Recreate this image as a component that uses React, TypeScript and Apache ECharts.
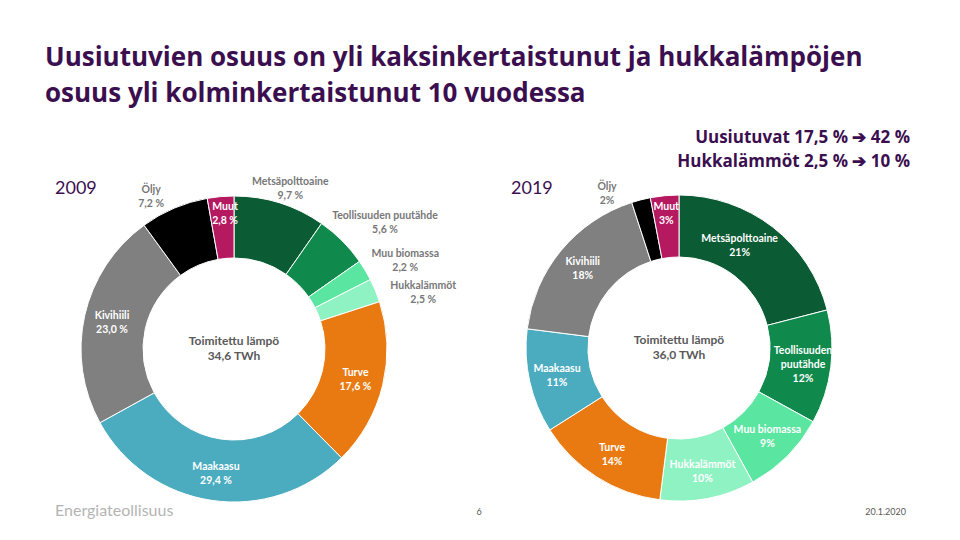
import React, { useEffect, useRef } from "react";
import * as echarts from "echarts";

const categories = [
  "Metsäpolttoaine",
  "Teollisuuden puutähde",
  "Muu biomassa",
  "Hukkalämmöt",
  "Turve",
  "Maakaasu",
  "Kivihiili",
  "Öljy",
  "Muut",
];
const names2019 = [
  "Metsäpolttoaine",
  "Teollisuuden\npuutähde",
  "Muu biomassa",
  "Hukkalämmöt",
  "Turve",
  "Maakaasu",
  "Kivihiili",
  "Öljy",
  "Muut",
];
const share2009 = [9.7, 5.6, 2.2, 2.5, 17.6, 29.4, 23.0, 7.2, 2.8];
const share2019 = [21, 12, 9, 10, 14, 11, 18, 2, 3];
const deliveredTWh = [34.6, 36.0];
const years = ["2009", "2019"];
const titleLines = [
  "Uusiutuvien osuus on yli kaksinkertaistunut ja hukkalämpöjen",
  "osuus yli kolminkertaistunut 10 vuodessa",
];
const summaryLines = ["Uusiutuvat 17,5 % ➔ 42 %", "Hukkalämmöt 2,5 % ➔ 10 %"];

const colors = [
  "#0b5b34",
  "#0f8a4c",
  "#5ae6a0",
  "#8ff2c2",
  "#e97a12",
  "#4bacc0",
  "#808080",
  "#000000",
  "#b5195f",
];

const PURPLE = "#3b0f4f";
const FONT = "Lato, 'Open Sans', sans-serif";
const HEAD_FONT = "'Open Sans', Lato, sans-serif";

const fmt1 = (v: number) => v.toFixed(1).replace(".", ",");

export default function App() {
  const ref = useRef<HTMLDivElement>(null);
  useEffect(() => {
    if (!ref.current) return;
    const chart = echarts.init(ref.current, undefined, { renderer: "svg" });

    const outside2009: Record<number, number[]> = {
      0: [2, 12],
      1: [23, 1],
      2: [16, 4],
      3: [22, 12],
      7: [-12, 14],
    };
    const inside2009Off: Record<number, number[]> = { 8: [2, -11] };
    const outside2019: Record<number, number[]> = { 7: [-27, 20] };
    const inside2019Off: Record<number, number[]> = { 0: [-16, -4], 8: [-1, -11] };

    const labelBase = {
      fontFamily: FONT,
      fontWeight: "bold" as const,
      fontSize: 10.5,
      lineHeight: 14,
    };

    const mainData = (vals: number[], names: string[], outside: Record<number, number[]>, offs: Record<number, number[]>, f: (v: number) => string) =>
      vals.map((v, i) => ({
        value: v,
        name: categories[i],
        itemStyle: { color: colors[i] },
        label: {
          show: !(i in outside),
          formatter: `${names[i]}\n${f(v)}`,
          offset: offs[i] || [0, 0],
        },
      }));

    const overlayData = (vals: number[], names: string[], outside: Record<number, number[]>, f: (v: number) => string) =>
      vals.map((v, i) => ({
        value: v,
        name: categories[i],
        itemStyle: { color: "rgba(0,0,0,0)" },
        label: {
          show: i in outside,
          formatter: `${names[i]}\n${f(v)}`,
          offset: outside[i] || [0, 0],
        },
      }));

    const centers = [
      [234, 349],
      [679, 348],
    ];

    const mainSeries = (idx: number, data: any[]) => ({
      type: "pie",
      center: centers[idx],
      radius: [91, 153],
      startAngle: 90,
      clockwise: true,
      avoidLabelOverlap: false,
      silent: true,
      itemStyle: { borderColor: "#ffffff", borderWidth: 1 },
      label: { ...labelBase, position: "inside", color: "#ffffff" },
      labelLine: { show: false },
      labelLayout: { hideOverlap: false },
      emphasis: { disabled: true },
      data,
    });

    const overlaySeries = (idx: number, data: any[]) => ({
      type: "pie",
      center: centers[idx],
      radius: [160, 196],
      startAngle: 90,
      clockwise: true,
      avoidLabelOverlap: false,
      silent: true,
      itemStyle: { borderWidth: 0 },
      label: { ...labelBase, position: "inside", color: "#777777" },
      labelLine: { show: false },
      labelLayout: { hideOverlap: false },
      emphasis: { disabled: true },
      data,
    });

    const f2019 = (v: number) => `${v}%`;
    const f2009 = (v: number) => `${fmt1(v)} %`;

    const centerTexts = centers.map((c, i) => ({
      type: "text",
      x: c[0],
      y: c[1] - 1,
      style: {
        text: `Toimitettu lämpö\n${fmt1(deliveredTWh[i])} TWh`,
        fontFamily: FONT,
        fontWeight: "bold",
        fontSize: 12,
        lineHeight: 15,
        fill: "#595959",
        align: "center",
        verticalAlign: "middle",
      },
    }));

    chart.setOption({
      animation: false,
      backgroundColor: "#ffffff",
      series: [
        mainSeries(0, mainData(share2009, categories, outside2009, inside2009Off, f2009)),
        overlaySeries(0, overlayData(share2009, categories, outside2009, f2009)),
        mainSeries(1, mainData(share2019, names2019, outside2019, inside2019Off, f2019)),
        overlaySeries(1, overlayData(share2019, names2019, outside2019, f2019)),
      ],
      graphic: [
        {
          type: "text",
          left: 45,
          top: 38,
          style: {
            text: titleLines.join("\n"),
            fontFamily: HEAD_FONT,
            fontWeight: "bold",
            fontSize: 26,
            lineHeight: 36,
            fill: PURPLE,
          },
        },
        {
          type: "text",
          x: 910,
          y: 124,
          style: {
            text: summaryLines.join("\n"),
            fontFamily: HEAD_FONT,
            fontWeight: "bold",
            fontSize: 17,
            lineHeight: 24,
            fill: PURPLE,
            align: "right",
          },
        },
        {
          type: "text",
          x: 55,
          y: 178,
          style: { text: years[0], fontFamily: FONT, fontSize: 18, fill: PURPLE },
        },
        {
          type: "text",
          x: 511,
          y: 178,
          style: { text: years[1], fontFamily: FONT, fontSize: 18, fill: PURPLE },
        },
        ...centerTexts,
        {
          type: "text",
          x: 55,
          y: 501,
          style: { text: "Energiateollisuus", fontFamily: FONT, fontSize: 16, fill: "#b4b4b4" },
        },
        {
          type: "text",
          x: 479,
          y: 511,
          style: { text: "6", fontFamily: FONT, fontSize: 9, fill: "#595959", align: "center", verticalAlign: "middle" },
        },
        {
          type: "text",
          x: 906,
          y: 511,
          style: { text: "20.1.2020", fontFamily: FONT, fontSize: 9, fill: "#595959", align: "right", verticalAlign: "middle" },
        },
      ],
    });
    return () => chart.dispose();
  }, []);

  return (
    <div
      ref={ref}
      style={{ position: "absolute", left: 0, top: 0, width: 960, height: 540 }}
    />
  );
}
